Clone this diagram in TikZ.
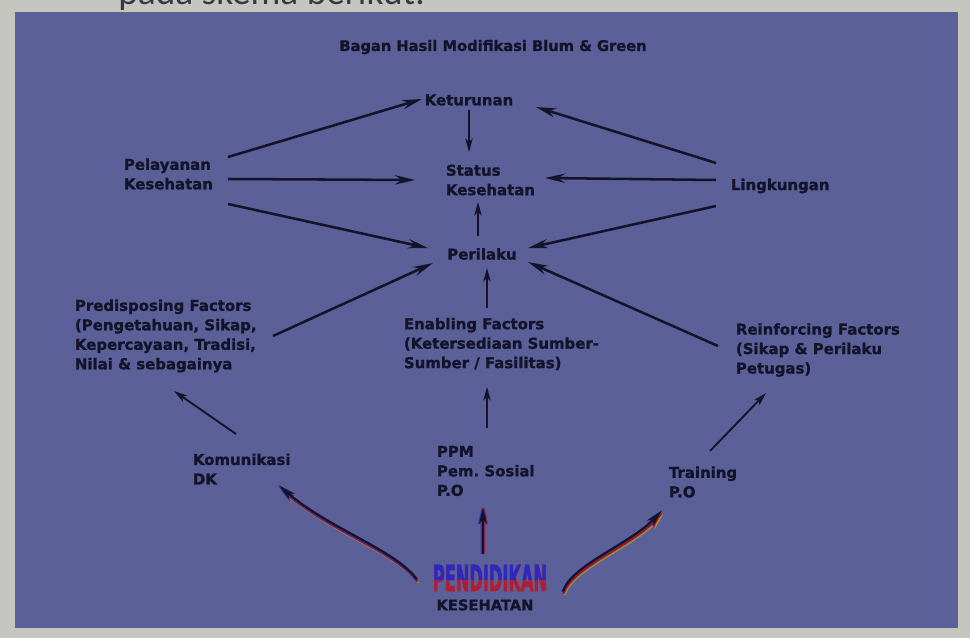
\documentclass[tikz,border=0pt]{standalone}
\usepackage{fontspec}
\setmainfont{DejaVu Sans}[BoldFeatures={FakeBold=1.2}]
\newfontfamily\carl{Carlito}
\usetikzlibrary{arrows.meta,calc}
\definecolor{paper}{HTML}{C6C6C0}
\definecolor{slide}{HTML}{5B6198}
\definecolor{ink}{HTML}{13132A}
\definecolor{pblue}{HTML}{2A2AC0}
\definecolor{pred}{HTML}{B01E34}
\frenchspacing
\begin{document}
\begin{tikzpicture}[x=0.75pt,y=-0.75pt,
  lbl/.style={font=\bfseries\fontsize{11.2}{14.6}\selectfont, text=ink, inner sep=2pt, align=left},
  arr/.style={draw=ink, line width=1.9pt, -{Stealth[length=15pt,width=7pt,inset=5pt]}},
  thin arr/.style={draw=ink, line width=1.4pt, -{Stealth[length=10pt,width=5.5pt,inset=2.5pt]}},
  rb/.style={line width=1.6pt, -{Stealth[length=13pt,width=6pt,inset=4pt]}},
  pendfont/.style={font=\bfseries\fontsize{27}{27}\selectfont, inner sep=0pt}
]
\useasboundingbox (0,0) rectangle (970,638);
\clip (0,0) rectangle (970,638);
\fill[paper] (0,0) rectangle (970,638);
\node[anchor=base west, font=\carl\fontsize{28}{30}\selectfont, text=ink!80!paper, inner sep=0pt] (topline) at (118,5) {pada skema berikut:};
\fill[slide] (15,12) rectangle (958,628);

% texts
\node[lbl, font=\bfseries\fontsize{11}{12}\selectfont] (title) at (493,47) {Bagan Hasil Modifikasi Blum \& Green};
\node[lbl] (ket) at (469,100) {Keturunan};
\node[lbl, anchor=west] (stat) at (443,180) {Status\\Kesehatan};
\node[lbl] (peri) at (482,254) {Perilaku};
\node[lbl, anchor=west] (pel) at (121,174) {Pelayanan\\Kesehatan};
\node[lbl, anchor=west] (ling) at (728,186) {Lingkungan};
\node[lbl, anchor=west] (predis) at (72,336) {Predisposing Factors\\(Pengetahuan, Sikap,\\Kepercayaan, Tradisi,\\Nilai \& sebagainya};
\node[lbl, anchor=west] (enab) at (401,344) {Enabling Factors\\(Ketersediaan Sumber-\\Sumber / Fasilitas)};
\node[lbl, anchor=west] (rein) at (733,350) {Reinforcing Factors\\(Sikap \& Perilaku\\Petugas)};
\node[lbl, anchor=west] (kom) at (190,469) {Komunikasi\\DK};
\node[lbl, anchor=west] (ppm) at (434,471) {PPM\\Pem.\ Sosial\\P.O};
\node[lbl, anchor=west] (train) at (666,482) {Training\\P.O};
\node[lbl, font=\bfseries\fontsize{11}{12}\selectfont] (kes) at (485,605) {KESEHATAN};

% PENDIDIKAN two-tone
\node[pendfont, text=pred] (pend) at (490,578) {\scalebox{0.45}[1]{PENDIDIKAN}};
\begin{scope}
  \clip (pend.north west) rectangle ($(pend.east)+(0,1)$);
  \node[pendfont, text=pblue] (pendb) at (pend.center) {\scalebox{0.45}[1]{PENDIDIKAN}};
\end{scope}

% arrows from Pelayanan
\draw[arr] ([shift={(107,-17)}]pel.west) -- ([shift={(-47,-1)}]ket.center);
\draw[arr] ([shift={(107,5)}]pel.west) -- ([shift={(-28,0)}]stat.west);
\draw[arr] ([shift={(107,30)}]pel.west) -- ([shift={(-54,-6)}]peri.center);
% arrows from Lingkungan
\draw[arr] ([shift={(-12,-23)}]ling.west) -- ([shift={(67,7)}]ket.center);
\draw[arr] ([shift={(-12,-6)}]ling.west) -- ([shift={(102,-2)}]stat.west);
\draw[arr] ([shift={(-12,20)}]ling.west) -- ([shift={(46,-6)}]peri.center);
% central
\draw[thin arr] ([shift={(0,10)}]ket.center) -- ([shift={(26,-28)}]stat.west);
\draw[thin arr] ([shift={(-4,-18)}]peri.center) -- ([shift={(35,22)}]stat.west);
% factors to Perilaku
\draw[arr] ([shift={(201,0)}]predis.west) -- ([shift={(-49,9)}]peri.center);
\draw[thin arr] ([shift={(86,-36)}]enab.west) -- ([shift={(5,14)}]peri.center);
\draw[arr] ([shift={(-15,-4)}]rein.west) -- ([shift={(46,8)}]peri.center);
% lower level to factors
\draw[thin arr] ([shift={(46,-35)}]kom.west) -- ([shift={(102,55)}]predis.west);
\draw[thin arr] ([shift={(53,-43)}]ppm.west) -- ([shift={(86,43)}]enab.west);
\draw[thin arr] ([shift={(44,-31)}]train.west) -- ([shift={(33,43)}]rein.west);

% Pendidikan arrows with colour fringes
\foreach \c/\dx/\dy/\o in {yellow!60!olive/1.5/3/0.45, red!70!black/0.5/1.8/0.8, pblue/-0.8/0/0.9, ink/0/-0.6/1}{
  \draw[rb, draw=\c, draw opacity=\o]
    ($(pend.center)+(-73+\dx,2+\dy)$) .. controls ($(pend.center)+(-95+\dx,-28+\dy)$) and ($(pend.center)+(-160+\dx,-48+\dy)$) .. ($(kom.west)+(89+\dx,17+\dy)$);
  \draw[rb, draw=\c, draw opacity=\o]
    ($(pend.center)+(73+\dx,14+\dy)$) .. controls ($(pend.center)+(82+\dx,-13+\dy)$) and ($(pend.center)+(140+\dx,-33+\dy)$) .. ($(train.west)+(-4+\dx,29+\dy)$);
}
\foreach \c/\dx/\o in {red!70!black/1.2/0.6, pblue/-1.2/0.8, ink/0/1}{
  \draw[rb, draw=\c, draw opacity=\o]
    ($(pend.center)+(-7+\dx,-24)$) -- ($(ppm.west)+(49+\dx,36)$);
}
\end{tikzpicture}
\end{document}
